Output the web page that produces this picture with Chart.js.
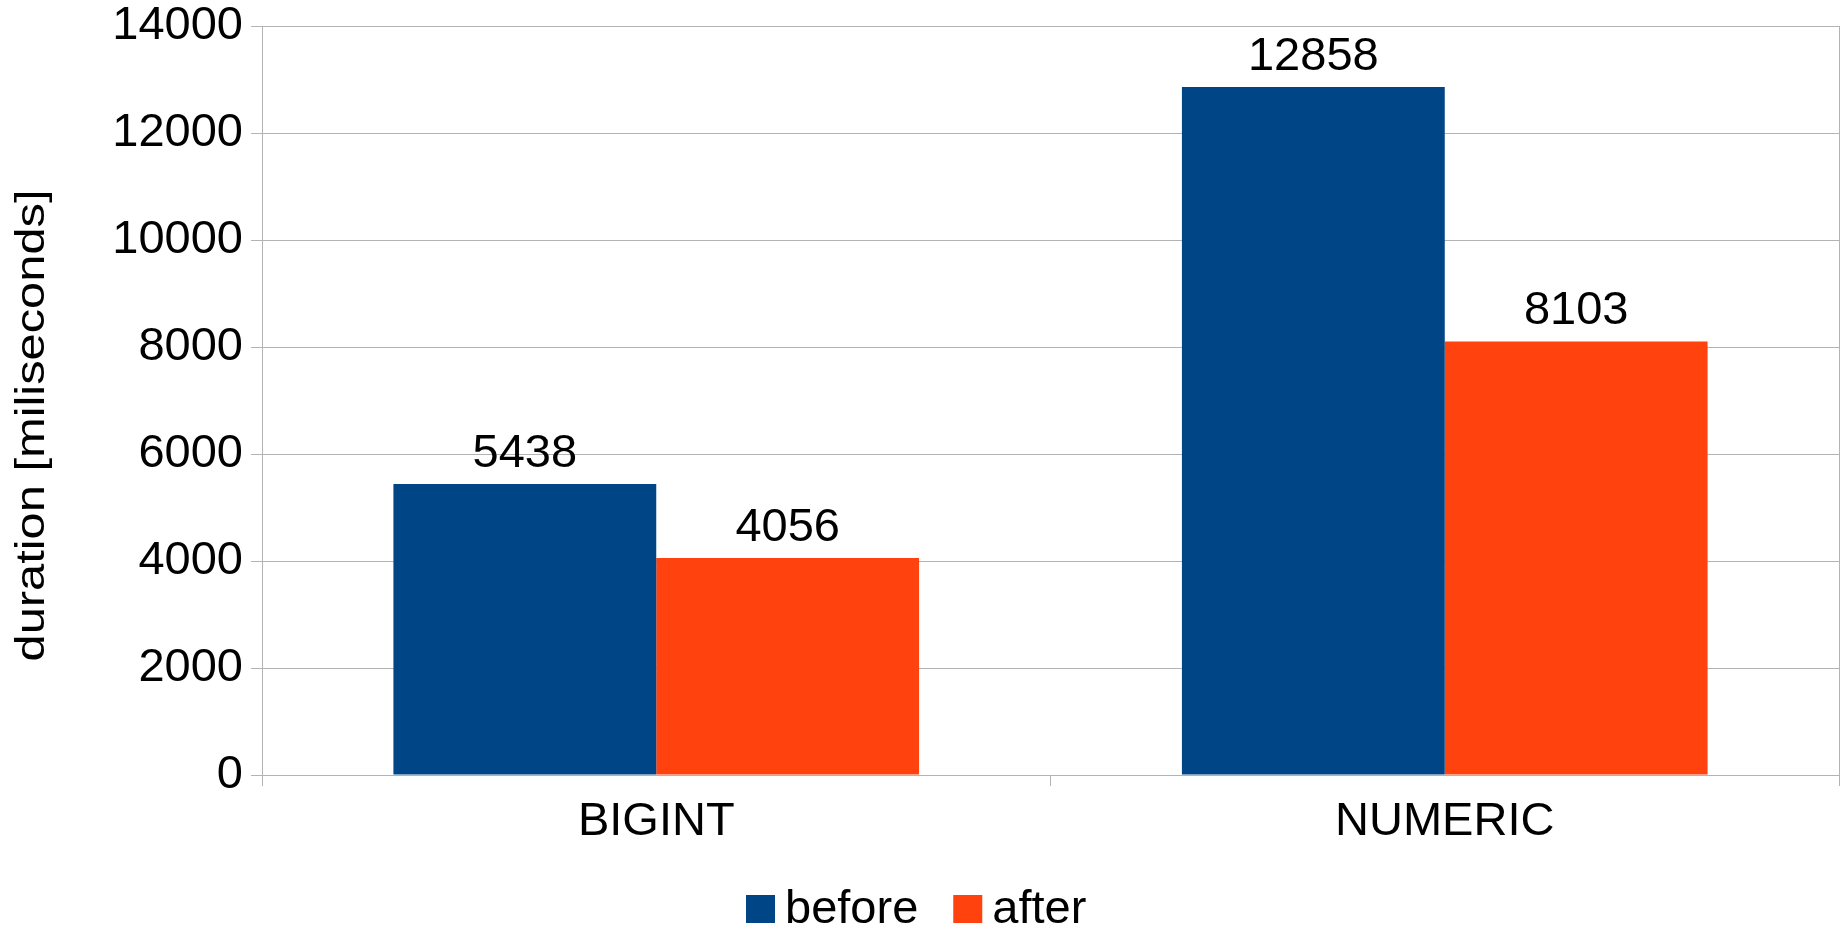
<!DOCTYPE html>
<html>
<head>
<meta charset="utf-8">
<script src="https://cdn.jsdelivr.net/npm/chart.js@4/dist/chart.umd.min.js"></script>
<style>
  html, body { margin: 0; padding: 0; background: #fff; overflow: hidden; }
  canvas { display: block; }
</style>
</head>
<body>
<canvas id="chart" width="1848" height="932"></canvas>
<script>
// Data
const categories = ['BIGINT', 'NUMERIC'];
const seriesNames = ['before', 'after'];
const beforeValues = [5438, 12858];
const afterValues = [4056, 8103];
const yTicks = [0, 2000, 4000, 6000, 8000, 10000, 12000, 14000];
const axisTitle = 'duration [miliseconds]';

// Styles
const FONT = '"Liberation Sans", Arial, sans-serif';
const TEXT_SIZE = 47;
const GRID = '#b3b3b3';
const seriesColors = ['#004586', '#ff420e'];

// Value labels centred above each bar
const valueLabels = {
  id: 'valueLabels',
  afterDatasetsDraw(chart) {
    const ctx = chart.ctx;
    ctx.save();
    ctx.font = `${TEXT_SIZE}px ${FONT}`;
    ctx.fillStyle = '#000';
    ctx.textAlign = 'center';
    ctx.textBaseline = 'alphabetic';
    chart.data.datasets.forEach((ds, i) => {
      chart.getDatasetMeta(i).data.forEach((bar, j) => {
        ctx.fillText(String(ds.data[j]), bar.x, bar.y - 17);
      });
    });
    ctx.restore();
  }
};

// Rotated y-axis title
const yTitle = {
  id: 'yTitle',
  afterDraw(chart) {
    const ctx = chart.ctx;
    const area = chart.chartArea;
    const cy = (area.top + chart.scales.x.top + 50) / 2;
    ctx.save();
    ctx.font = `40px ${FONT}`;
    ctx.fillStyle = '#000';
    ctx.textAlign = 'center';
    ctx.textBaseline = 'alphabetic';
    const w = ctx.measureText(axisTitle).width;
    ctx.translate(44, cy);
    ctx.rotate(-Math.PI / 2);
    ctx.scale(472 / w, 1);
    ctx.fillText(axisTitle, 0, 0);
    ctx.restore();
  }
};

// Legend row under the x-axis
const legendRow = {
  id: 'legendRow',
  afterDraw(chart) {
    const ctx = chart.ctx;
    const box = 29, boxH = 28, gap = 10, itemGap = 35;
    ctx.save();
    ctx.font = `${TEXT_SIZE}px ${FONT}`;
    ctx.textBaseline = 'alphabetic';
    ctx.textAlign = 'left';
    const items = chart.data.datasets.map(ds => ({
      label: ds.label, color: ds.backgroundColor, w: ctx.measureText(ds.label).width
    }));
    const total = items.reduce((s, it) => s + box + gap + it.w, 0) + itemGap * (items.length - 1);
    let x = Math.round(chart.width / 2 - total / 2 - 8);
    const baseline = 923;
    items.forEach(it => {
      ctx.fillStyle = it.color;
      ctx.fillRect(x, baseline - boxH, box, boxH);
      ctx.fillStyle = '#000';
      ctx.fillText(it.label, x + box + gap, baseline);
      x += box + gap + it.w + itemGap;
    });
    ctx.restore();
  }
};

new Chart(document.getElementById('chart'), {
  type: 'bar',
  data: {
    labels: categories,
    datasets: [
      { label: seriesNames[0], data: beforeValues, backgroundColor: seriesColors[0] },
      { label: seriesNames[1], data: afterValues, backgroundColor: seriesColors[1] }
    ]
  },
  options: {
    responsive: false,
    devicePixelRatio: 1,
    animation: false,
    layout: { padding: { top: 26, right: 9, bottom: 0, left: 0 } },
    datasets: { bar: { categoryPercentage: 2 / 3, barPercentage: 1, borderWidth: 0 } },
    plugins: { legend: { display: false }, tooltip: { enabled: false } },
    scales: {
      x: {
        grid: { offset: true, drawOnChartArea: false, drawTicks: true, tickLength: 11, color: GRID, lineWidth: 1 },
        border: { display: true, color: GRID, width: 1 },
        ticks: { color: '#000', font: { family: FONT, size: TEXT_SIZE, lineHeight: 1.2 }, padding: 8, maxRotation: 0 },
        afterFit: s => { s.height = 157; s.paddingLeft = 0; s.paddingRight = 0; }
      },
      y: {
        min: 0,
        max: yTicks[yTicks.length - 1],
        afterBuildTicks: s => { s.ticks = yTicks.map(v => ({ value: v })); },
        grid: { color: GRID, lineWidth: 1, tickLength: 11, drawTicks: true },
        border: { display: true, color: GRID, width: 1 },
        ticks: {
          color: '#000',
          font: { family: FONT, size: TEXT_SIZE, lineHeight: 1 },
          padding: 8,
          callback: v => String(v)
        },
        afterFit: s => { s.width = 262; s.paddingTop = 0; s.paddingBottom = 0; }
      },
      yRight: {
        position: 'right',
        min: 0,
        max: 1,
        grid: { display: false },
        border: { display: true, color: GRID, width: 1 },
        ticks: { display: false },
        afterFit: s => { s.width = 0; s.paddingTop = 0; s.paddingBottom = 0; }
      }
    }
  },
  plugins: [valueLabels, yTitle, legendRow]
});
</script>
</body>
</html>
